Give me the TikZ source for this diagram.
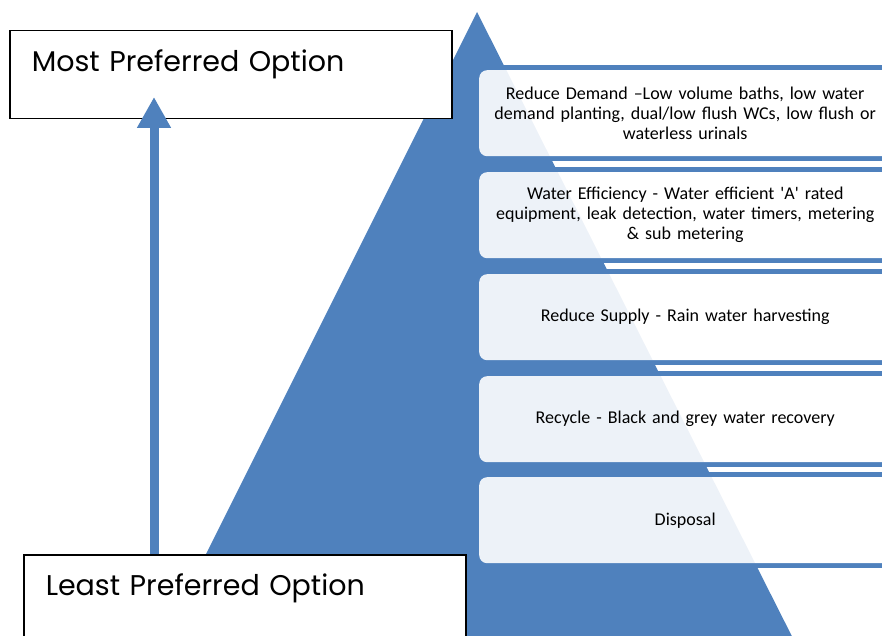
\documentclass[tikz,border=0pt]{standalone}
\usepackage{fontspec}
\setmainfont{Carlito}
\newfontfamily\optionfont{Poppins}
\usetikzlibrary{arrows.meta}
\definecolor{pyrblue}{HTML}{4F81BD}

\tikzset{
  band/.style={fill=pyrblue},
  tier/.style={fill=white, fill opacity=0.9, text opacity=1, rounded corners=8pt,
    anchor=north west, inner sep=0pt, minimum width=412pt, minimum height=86pt,
    text width=404pt, align=center, font=\fontsize{18}{20}\selectfont},
  option/.style={draw=black, line width=1.5pt, fill=white, anchor=north west,
    text width=398pt, inner xsep=22pt, inner ysep=0pt, text height=41pt, text depth=47pt,
    font=\optionfont\fontsize{28.5}{32}\selectfont},
  pref arrow/.style={draw=pyrblue, line width=9pt, -{Triangle[width=32pt,length=31pt]}},
}

\begin{document}
\begin{tikzpicture}[x=1pt, y=-1pt]
   \useasboundingbox (0,0) rectangle (882,636);
   \clip (0,0) rectangle (882,636);

   % pyramid
   \fill[pyrblue] (477,12) -- (143,680) -- (814,680) -- cycle;

   % tiers
   \foreach \y in {70,172,274,376,477} {
     \fill[band] (479,\y-5) rectangle (891,\y);
     \fill[band] (479,\y+86) rectangle (891,\y+91);
   }

   \node[tier] (demand) at (479,70) {Reduce Demand --Low volume baths, low water\\
     demand planting, dual/low flush WCs, low flush or\\ waterless urinals};
   \node[tier] (efficiency) at (479,172) {Water Efficiency - Water efficient \textquotesingle A\textquotesingle\ rated\\
     equipment, leak detection, water timers, metering\\ \& sub metering};
   \node[tier] (supply) at (479,274) {Reduce Supply - Rain water harvesting};
   \node[tier] (recycle) at (479,376) {Recycle - Black and grey water recovery};
   \node[tier] (disposal) at (479,477) {Disposal};

   % preference scale
   \node[option] (most) at (9,30) {Most Preferred Option};
   \node[option] (least) at (23,554) {Least Preferred Option};
   \coordinate (arrowtip) at (154,97);
   \draw[pref arrow] (least.north -| arrowtip) -- (arrowtip);
\end{tikzpicture}
\end{document}
